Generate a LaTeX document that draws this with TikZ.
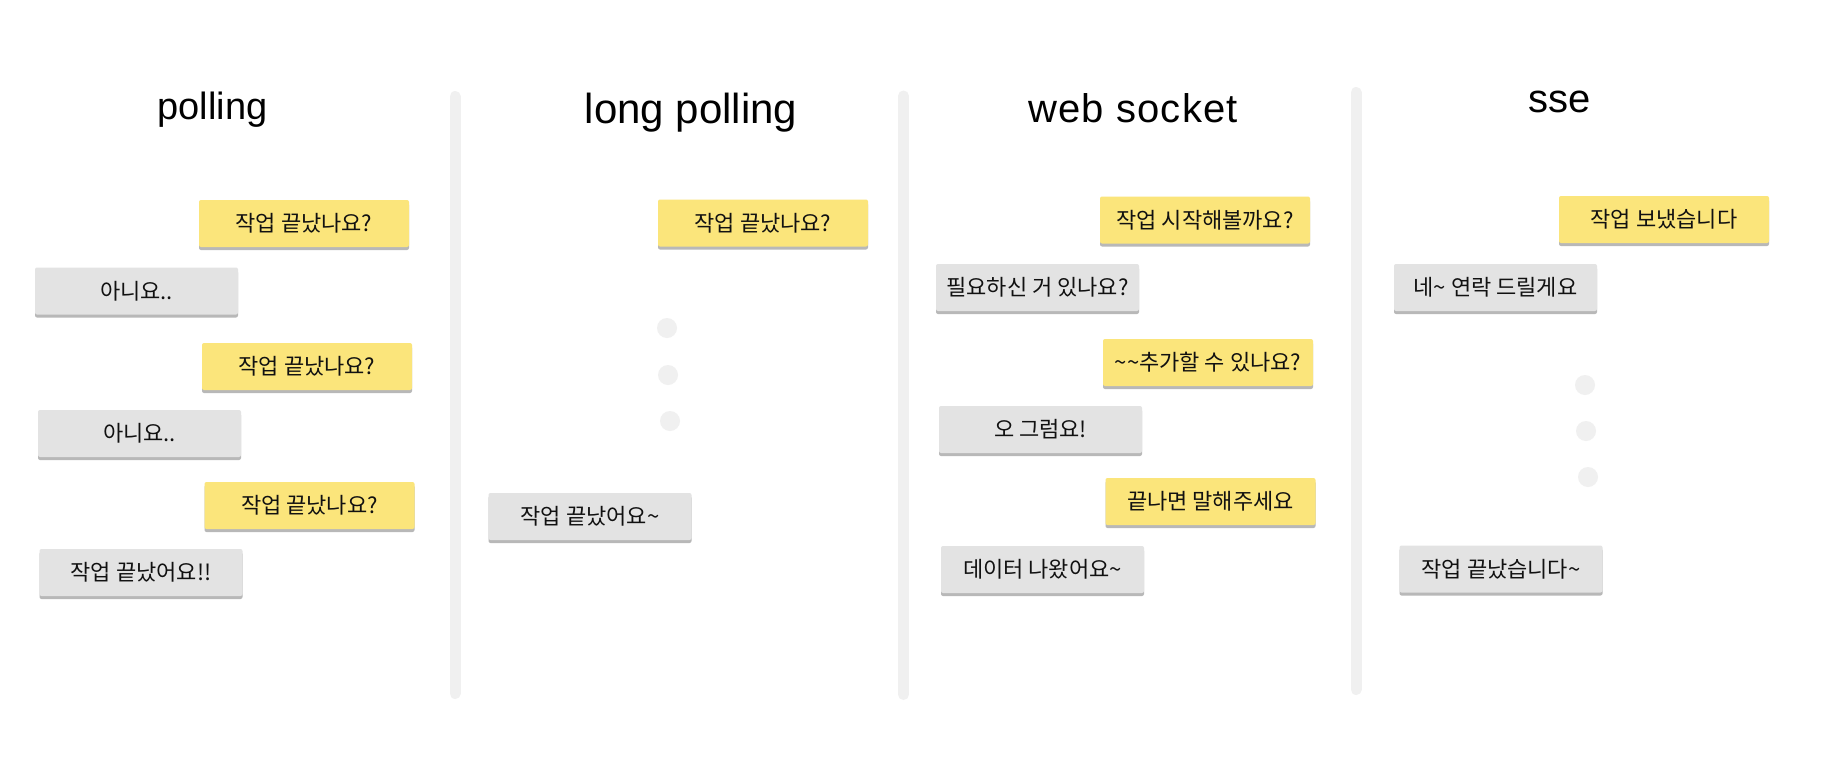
\documentclass[tikz,border=0pt]{standalone}
\usepackage{fontspec}
\setmainfont{Liberation Sans}
\newfontfamily\krfont{Noto Sans CJK KR}
\newfontfamily\wsfont[LetterSpace=3]{Liberation Sans}
\usetikzlibrary{shadows}
\definecolor{noteyellow}{HTML}{FBE57B}
\definecolor{notegray}{HTML}{E3E3E3}
\definecolor{noteshadow}{HTML}{B8B8B8}
\definecolor{divider}{HTML}{F0F0F0}
\definecolor{inktext}{HTML}{111111}
\tikzset{
  notebase/.style={inner sep=0pt, minimum height=47pt, rounded corners=2pt,
    text=inktext, font=\krfont\fontsize{22}{26}\selectfont,
    drop shadow={shadow xshift=0pt, shadow yshift=-3pt, fill=noteshadow, opacity=1}},
  ynote/.style={notebase, fill=noteyellow, minimum width=210pt},
  gnote/.style={notebase, fill=notegray, minimum width=203pt},
  title/.style={anchor=base, text=black},
  divline/.style={draw=divider, line width=11pt, line cap=round},
  dotmark/.style={circle, fill=divider, minimum size=20pt, inner sep=0pt}
}
\begin{document}
\begin{tikzpicture}[x=1pt,y=-1pt]
\useasboundingbox[fill=white] (0,0) rectangle (1842,758);
% dividers
\coordinate (d1t) at (455,96.5); \coordinate (d1b) at (455,693.5);
\coordinate (d2t) at (903.5,96); \coordinate (d2b) at (903.5,694.5);
\coordinate (d3t) at (1356,92.5); \coordinate (d3b) at (1356,689.5);
\draw[divline] (d1t) -- (d1b);
\draw[divline] (d2t) -- (d2b);
\draw[divline] (d3t) -- (d3b);
% titles
\node[title, font=\fontsize{38}{44}\selectfont] (t1) at (212.5,119) {polling};
\node[title, font=\fontsize{42}{48}\selectfont] (t2) at (691,123) {long polling};
\node[title, font=\wsfont\fontsize{40}{46}\selectfont] (t3) at (1133,122) {web socket};
\node[title, font=\fontsize{40}{46}\selectfont] (t4) at (1560,112) {sse};
% polling
\node[ynote] (p1) at (304,223.5) {작업 끝났나요?};
\node[gnote] (p2) at (136.5,291) {아니요..};
\node[ynote] (p3) at (307,366.5) {작업 끝났나요?};
\node[gnote] (p4) at (139.5,433.5) {아니요..};
\node[ynote] (p5) at (309.5,505.5) {작업 끝났나요?};
\node[gnote] (p6) at (141,572.5) {작업 끝났어요!!};
% long polling
\node[ynote] (l1) at (763,223) {작업 끝났나요?};
\node[dotmark] (ld1) at (667,328) {};
\node[dotmark] (ld2) at (668,375) {};
\node[dotmark] (ld3) at (670,421) {};
\node[gnote] (l2) at (590,516.5) {작업 끝났어요\textasciitilde};
% web socket
\node[ynote] (w1) at (1205,220) {작업 시작해볼까요?};
\node[gnote] (w2) at (1037.5,287.5) {필요하신 거 있나요?};
\node[ynote] (w3) at (1208,362.5) {\textasciitilde\textasciitilde 추가할 수 있나요?};
\node[gnote] (w4) at (1040.5,429.5) {오 그럼요!};
\node[ynote] (w5) at (1210.5,501.5) {끝나면 말해주세요};
\node[gnote] (w6) at (1042.5,569.5) {데이터 나왔어요\textasciitilde};
% sse
\node[ynote] (s1) at (1664,219.5) {작업 보냈습니다};
\node[gnote] (s2) at (1495.5,287.5) {네\textasciitilde{} 연락 드릴게요};
\node[dotmark] (sd1) at (1585,385) {};
\node[dotmark] (sd2) at (1586,431) {};
\node[dotmark] (sd3) at (1588,477) {};
\node[gnote] (s3) at (1501,569) {작업 끝났습니다\textasciitilde};
\end{tikzpicture}
\end{document}
